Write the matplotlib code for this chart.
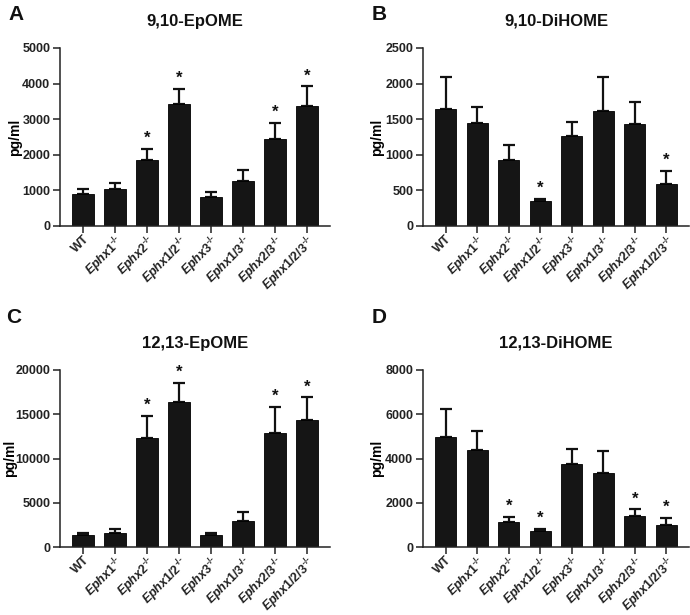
import matplotlib
matplotlib.use("agg")
import numpy as np
import matplotlib.pyplot as plt

plt.rcParams.update({
    "font.family": "Liberation Sans",
    "font.weight": "bold",
    "mathtext.fontset": "custom",
    "mathtext.rm": "Liberation Sans:bold",
    "mathtext.bf": "Liberation Sans:bold",
    "mathtext.it": "Liberation Sans:italic:bold",
    "axes.linewidth": 1.1,
    "axes.edgecolor": "#222222",
    "xtick.color": "#222222",
    "ytick.color": "#222222",
    "text.color": "#111111",
})

genotypes = ["WT", "Ephx1", "Ephx2", "Ephx1/2", "Ephx3", "Ephx1/3", "Ephx2/3", "Ephx1/2/3"]

# 9,10-EpOME
epome910_mean = [900, 1040, 1845, 3420, 805, 1265, 2450, 3370]
epome910_sem = [140, 180, 325, 440, 160, 310, 445, 560]
epome910_sig = [False, False, True, True, False, False, True, True]

# 9,10-DiHOME
dihome910_mean = [1648, 1451, 922, 350, 1269, 1615, 1428, 585]
dihome910_sem = [445, 225, 216, 33, 192, 478, 314, 192]
dihome910_sig = [False, False, False, True, False, False, False, True]

# 12,13-EpOME
epome1213_mean = [1316, 1630, 12293, 16429, 1353, 2950, 12932, 14323]
epome1213_sem = [240, 400, 2520, 2105, 280, 950, 2933, 2594]
epome1213_sig = [False, False, True, True, False, False, True, True]

# 12,13-DiHOME
dihome1213_mean = [4992, 4376, 1143, 737, 3744, 3353, 1383, 1008]
dihome1213_sem = [1249, 887, 225, 90, 707, 978, 331, 315]
dihome1213_sig = [False, False, True, True, False, False, True, True]

panels = [
    ("A", "9,10-EpOME", epome910_mean, epome910_sem, epome910_sig, 5000, 1000),
    ("B", "9,10-DiHOME", dihome910_mean, dihome910_sem, dihome910_sig, 2500, 500),
    ("C", "12,13-EpOME", epome1213_mean, epome1213_sem, epome1213_sig, 20000, 5000),
    ("D", "12,13-DiHOME", dihome1213_mean, dihome1213_sem, dihome1213_sig, 8000, 2000),
]

W, H = 690, 615
# axes boxes in pixels: left, right, top, bottom
boxes = [(60, 330, 48, 226), (423, 689, 48, 226), (60, 330, 370, 547), (423, 689, 370, 547)]
letter_pos = [(8, 14), (372, 14), (6, 317), (372, 317)]
ylabel_x = [15, 377, 10, 377]

tick_labels = []
for g in genotypes:
    if g == "WT":
        tick_labels.append("WT")
    else:
        tick_labels.append(r"$\mathit{%s}^{\text{-/-}}$" % g)

fig = plt.figure(figsize=(W / 100, H / 100), dpi=100)

for (letter, title, mean, sem, sig, ymax, step), (l, r, t, b), (lx, ly), yl in zip(panels, boxes, letter_pos, ylabel_x):
    ax = fig.add_axes([l / W, 1 - b / H, (r - l) / W, (b - t) / H])
    x = np.arange(len(genotypes))
    mean = np.array(mean)
    sem = np.array(sem)
    ax.bar(x, mean, width=0.66, color="#151515", edgecolor="#000000", linewidth=0.6, zorder=2)
    ax.errorbar(x, mean, yerr=[np.zeros_like(sem), sem], fmt="none", ecolor="#111111",
                elinewidth=1.6, capsize=4, capthick=1.6, zorder=1)
    for xi, m, s, flag in zip(x, mean, sem, sig):
        if flag:
            ax.annotate("*", (xi, m + s), xytext=(0, 2), textcoords="offset points",
                        ha="center", va="bottom", fontsize=12, fontweight="bold")
    ax.set_xlim(-0.72, 7.72)
    ax.set_ylim(0, ymax)
    ax.set_yticks(np.arange(0, ymax + 1, step))
    ax.set_xticks(x)
    ax.set_xticklabels(tick_labels, rotation=45, ha="right", va="top",
                       rotation_mode="anchor", fontsize=9)
    ax.tick_params(axis="y", labelsize=9, length=5, width=1.1, pad=2)
    ax.tick_params(axis="x", length=5, width=1.1, pad=0)
    ax.spines["top"].set_visible(False)
    ax.spines["right"].set_visible(False)
    ax.set_ylabel("pg/ml", fontsize=10, fontweight="bold", va="center")
    ax.yaxis.set_label_coords((yl - l) / (r - l), 0.5)
    ax.set_title(title, fontsize=12, fontweight="bold", pad=16)
    fig.text(lx / W, 1 - ly / H, letter, fontsize=15, fontweight="bold", ha="left", va="center")

fig.savefig("out.png", dpi=100, facecolor="white")
